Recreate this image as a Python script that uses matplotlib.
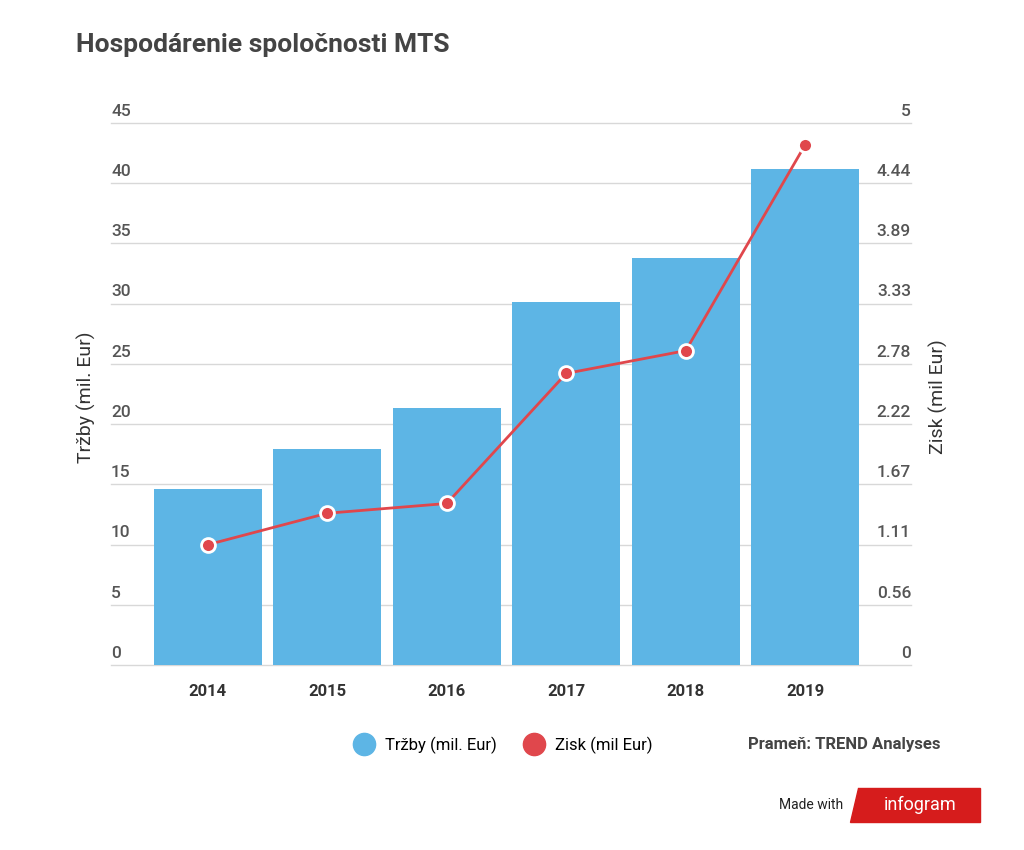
import matplotlib
matplotlib.use("Agg")
import matplotlib.pyplot as plt
from matplotlib.lines import Line2D

years = ["2014", "2015", "2016", "2017", "2018", "2019"]
trzby = [14.6, 17.9, 21.3, 30.1, 33.8, 41.2]
zisk = [1.11, 1.40, 1.49, 2.69, 2.90, 4.80]
left_ticks = [0, 5, 10, 15, 20, 25, 30, 35, 40, 45]
right_labels = ["0", "0.56", "1.11", "1.67", "2.22", "2.78", "3.33", "3.89", "4.44", "5"]

plt.rcParams["font.family"] = "Roboto"
fig = plt.figure(figsize=(10.24, 8.5), dpi=100)
L, R = 148, 865
ax = fig.add_axes([L/1024, 1-665/850, (R-L)/1024, 542/850])
x = range(len(years))
ax.bar(x, trzby, width=0.9, color="#5db5e5", zorder=2)
ax.set_ylim(0, 45)
ax.set_xlim(-0.5, 5.5)
ax.set_yticks([])
ax.set_xticks(list(x))
ax.set_xticklabels(years, fontsize=12, color="#333333", fontweight="bold")
for s in ax.spines.values():
    s.set_visible(False)
ax.tick_params(length=0, pad=14)
tr = ax.get_yaxis_transform()
gx0 = (111 - L) / (R - L)
gx1 = (911 - L) / (R - L)
for v in left_ticks:
    ax.plot([gx0, gx1], [v, v], transform=tr, color="#d8d8d8", lw=1, zorder=0, clip_on=False)
    ax.text((111 - L) / (R - L), v + 0.35, str(v), transform=tr, fontsize=12.5,
            fontweight="medium", color="#555555", ha="left", va="bottom")
for i, lab in enumerate(right_labels):
    ax.text((911 - L) / (R - L), i * 5 + 0.35, lab, transform=tr, fontsize=12.5,
            fontweight="medium", color="#555555", ha="right", va="bottom")
fig.text(86/1024, 1-397/850, "Tržby (mil. Eur)", fontsize=14, color="#333333",
         rotation=90, ha="center", va="center")
fig.text(938/1024, 1-397/850, "Zisk (mil Eur)", fontsize=14, color="#333333",
         rotation=90, ha="center", va="center")

ax2 = ax.twinx()
ax2.set_ylim(0, 5)
ax2.set_yticks([])
for s in ax2.spines.values():
    s.set_visible(False)
ax2.plot(list(x), zisk, color="#e0474c", lw=2, marker="o", ms=10,
         markerfacecolor="#e0474c", markeredgecolor="white", markeredgewidth=2, zorder=3)

fig.text(76/1024, 1-45/850, "Hospodárenie spoločnosti MTS", fontsize=19,
         fontweight="bold", color="#444444", va="center")
handles = [Line2D([], [], marker="o", ls="", ms=16, color="#5db5e5"),
           Line2D([], [], marker="o", ls="", ms=16, color="#e0474c")]
fig.legend(handles, ["Tržby (mil. Eur)", "Zisk (mil Eur)"], loc="center",
           bbox_to_anchor=(500/1024, 1-745/850), ncol=2, frameon=False,
           fontsize=12, handletextpad=0.3, columnspacing=1.2)
fig.text(940/1024, 1-745/850, "Prameň: TREND Analyses", fontsize=12,
         fontweight="bold", color="#444444", ha="right", va="center")
fig.text(843/1024, 1-805/850, "Made with", fontsize=10, color="#222222", ha="right", va="center")
fig.patches.append(plt.Polygon([[858/1024, 1-788/850], [980/1024, 1-788/850],
                                [980/1024, 1-822/850], [850/1024, 1-822/850]],
                               transform=fig.transFigure, color="#d61c1c"))
fig.text(920/1024, 1-805/850, "infogram", fontsize=13, color="white", ha="center", va="center")
fig.savefig("out.png", dpi=100)
